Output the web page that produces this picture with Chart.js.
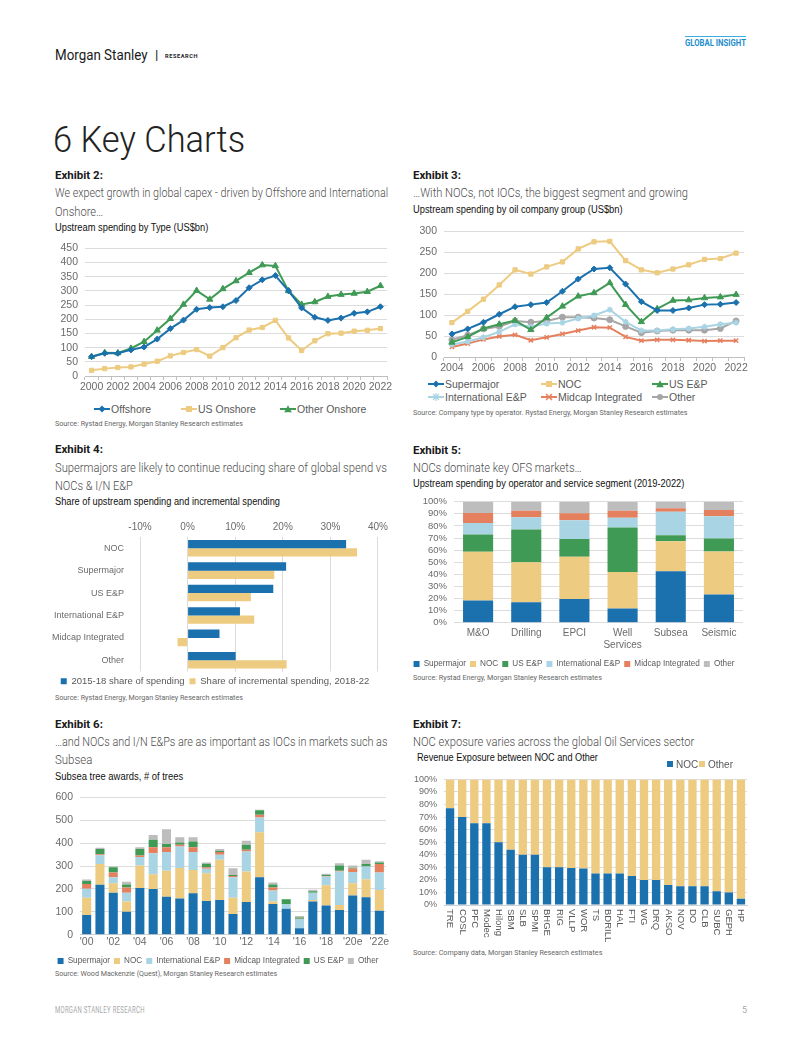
<!DOCTYPE html>
<html>
<head>
<meta charset="utf-8">
<script src="https://cdn.jsdelivr.net/npm/chart.js@4.4.1/dist/chart.umd.min.js"></script>
<style>
  body { margin: 0; background: #fff; font-family: Roboto, "Liberation Sans", Arial, sans-serif; }
  #page { position: relative; width: 802px; height: 1037px; overflow: hidden; background: #fff; }
  .lg { position: absolute; font-family: "Liberation Sans", Arial, sans-serif; font-size: 10.5px; color: #595959; white-space: nowrap; display: flex; align-items: center; }
  .lg svg { margin-right: 1px; }
  .sq { display: inline-block; width: 6px; height: 6px; margin-right: 3px; }
</style>
</head>
<body>
<div id="page"></div>
<script>
// ---- data ----
const years2 = ['2000','2001','2002','2003','2004','2005','2006','2007','2008','2009','2010','2011',
  '2012','2013','2014','2015','2016','2017','2018','2019','2020','2021','2022'];
const offshore     = [68, 80, 80, 92, 102, 130, 167, 197, 235, 241, 244, 266, 311, 339, 354, 300, 240, 207, 196, 204, 221, 226, 244];
const usOnshore    = [20, 26, 30, 32, 42, 52, 71, 83, 93, 70, 100, 135, 162, 171, 196, 134, 90, 124, 149, 151, 158, 161, 167];
const otherOnshore = [68, 82, 81, 97, 121, 161, 202, 252, 301, 270, 307, 335, 364, 391, 388, 300, 252, 261, 280, 287, 291, 297, 318];

const years3 = ['2004','2005','2006','2007','2008','2009','2010','2011','2012','2013','2014','2015',
  '2016','2017','2018','2019','2020','2021','2022'];
const supermajor3 = [55, 67, 83, 102, 120, 125, 130, 157, 186, 210, 213, 174, 132, 111, 111, 117, 125, 126, 130];
const noc3        = [82, 109, 138, 172, 208, 198, 215, 227, 258, 275, 276, 230, 208, 201, 210, 220, 233, 235, 248];
const usEP3       = [35, 48, 68, 78, 87, 65, 94, 121, 145, 153, 177, 125, 84, 115, 135, 136, 141, 143, 149];
const intlEP3     = [30, 37, 47, 60, 78, 72, 80, 82, 92, 99, 113, 84, 63, 63, 66, 68, 72, 78, 82];
const midcap3     = [24, 32, 42, 49, 53, 40, 47, 55, 63, 71, 70, 48, 39, 41, 41, 40, 38, 39, 39];
const other3      = [41, 52, 67, 73, 86, 83, 86, 95, 95, 93, 89, 73, 58, 62, 64, 64, 64, 68, 86];

const groups4 = ['NOC', 'Supermajor', 'US E&P', 'International E&P', 'Midcap Integrated', 'Other'];
const share1518 = [33.3, 20.7, 18.0, 11.0, 6.7, 10.1];
const shareIncr = [35.6, 18.2, 13.3, 14.0, -2.1, 20.8];

const segments5 = ['M&O', 'Drilling', 'EPCI', ['Well', 'Services'], 'Subsea', 'Seismic'];
const super5  = [18.4, 17.0, 19.7, 11.8, 42.5, 23.3];
const noc5    = [40.2, 32.9, 34.8, 30.1, 24.9, 35.6];
const usEP5   = [14.3, 27.1, 14.8, 36.7, 4.9, 10.7];
const intl5   = [9.6, 10.1, 15.4, 8.2, 19.5, 18.3];
const midcap5 = [8.2, 5.5, 5.7, 5.8, 2.7, 5.3];
const other5  = [9.3, 7.4, 9.6, 7.4, 5.5, 6.8];

const years6 = ["'00","'01","'02","'03","'04","'05","'06","'07","'08","'09","'10","'11",
  "'12","'13","'14","'15","'16","'17","'18","'19","'20e","'21e","'22e"];
const super6  = [86, 218, 184, 101, 204, 200, 166, 158, 181, 147, 152, 91, 143, 251, 134, 114, 29, 145, 128, 108, 172, 164, 105];
const noc6    = [76, 91, 41, 44, 98, 64, 113, 133, 102, 122, 175, 71, 133, 197, 11, 0, 0, 7, 88, 22, 53, 78, 91];
const intl6   = [39, 38, 26, 39, 37, 92, 82, 94, 78, 19, 22, 89, 88, 64, 48, 20, 40, 32, 38, 146, 49, 56, 76];
const midcap6 = [21, 5, 21, 22, 7, 26, 21, 8, 21, 7, 12, 6, 7, 12, 13, 0, 1, 0, 3, 3, 15, 0, 37];
const usEP6   = [13, 22, 23, 14, 28, 33, 14, 10, 25, 15, 5, 4, 22, 19, 14, 21, 6, 6, 4, 23, 4, 11, 6];
const other6  = [6, 6, 3, 12, 8, 21, 65, 23, 19, 5, 8, 29, 17, 3, 8, 0, 6, 7, 5, 10, 9, 18, 6];

const companies7 = ['TRE','COSL','PFC','Modec','Hilong','SBM','SLB','SPMI','BHGE','RIG','VLLP','WOR','TS',
  'BDRILL','HAL','FTI','WG','DRQ','AKSO','NOV','DO','CLB','SUBC','GEPH','HP'];
const nocShare7 = [77, 70, 65, 65, 50, 44, 40, 40, 30, 30, 29.5, 29, 25, 25, 25, 23, 20, 20, 16, 15, 15, 15, 11, 10, 5];
const otherShare7 = nocShare7.map(v => 100 - v);

// ---- colours ----
const BLUE = '#1b71ad', TAN = '#edcb80', GREEN = '#3f9a55', LBLUE = '#a9d4e4', ORANGE = '#e5805f', GREY = '#bdbdbd';
const GRID = '#dcdcdc', TICK = '#6b6b6b';
const FONT = '"Liberation Sans", Arial, sans-serif';

const page = document.getElementById('page');

// text helper: x, vertical centre, css, optional target width
function txt(s, x, cy, css, w) {
  const d = document.createElement('div');
  d.textContent = s;
  d.style.cssText = 'position:absolute;left:' + x + 'px;top:' + (cy - 12) + 'px;height:24px;line-height:24px;white-space:nowrap;transform-origin:0 50%;' + css;
  page.appendChild(d);
  if (w) d.style.transform = 'scaleX(' + (w / d.offsetWidth) + ')';
  return d;
}

// ---- header / footer ----
txt('Morgan Stanley', 55, 55, 'font-size:15.5px;color:#1a1a1a;', 93);
txt('|', 155, 55, 'font-size:13px;color:#333;font-weight:700;');
txt('RESEARCH', 165, 56, 'font-size:6px;color:#222;font-weight:700;letter-spacing:0.6px;', 33);
const rule = document.createElement('div');
rule.style.cssText = 'position:absolute;left:685px;top:36px;width:61px;height:1px;background:#3aaee0;';
page.appendChild(rule);
txt('GLOBAL INSIGHT', 685, 43, 'font-size:8.5px;color:#1c8ccc;font-weight:700;', 61);
txt('6 Key Charts', 53, 140, 'font-size:37px;font-weight:300;color:#222;', 192);
txt('MORGAN STANLEY RESEARCH', 55, 1010, 'font-size:9px;color:#a8a8a8;letter-spacing:0.4px;', 90);
txt('5', 742, 1010, 'font-size:9px;color:#a8a8a8;');

const EX = 'font-size:11.5px;font-weight:700;color:#1a1a1a;';
const SUB = 'font-size:13px;font-weight:300;color:#4d4d4d;';
const CT = 'font-size:10px;color:#111;font-family:"Liberation Sans",Arial,sans-serif;';
const SRC = 'font-size:7px;color:#666;';

// exhibit texts
txt('Exhibit 2:', 55, 175, EX, 48);
txt('We expect growth in global capex - driven by Offshore and International', 55, 193, SUB, 333);
txt('Onshore\u2026', 55, 212, SUB, 48);
txt('Upstream spending by Type (US$bn)', 55, 228, CT, 153);
txt('Source: Rystad Energy, Morgan Stanley Research estimates', 55, 424, SRC, 188);

txt('Exhibit 3:', 413, 175, EX, 48);
txt('\u2026With NOCs, not IOCs, the biggest segment and growing', 413, 193, SUB, 275);
txt('Upstream spending by oil company group (US$bn)', 413, 210, CT, 210);
txt('Source: Company type by operator. Rystad Energy, Morgan Stanley Research estimates', 413, 413, SRC, 275);

txt('Exhibit 4:', 55, 449, EX, 48);
txt('Supermajors are likely to continue reducing share of global spend vs', 55, 468, SUB, 332);
txt('NOCs & I/N E&P', 55, 486, SUB, 78);
txt('Share of upstream spending and incremental spending', 55, 502, CT, 225);
txt('Source: Rystad Energy, Morgan Stanley Research estimates', 55, 698, SRC, 188);

txt('Exhibit 5:', 413, 450, EX, 48);
txt('NOCs dominate key OFS markets\u2026', 413, 468, SUB, 169);
txt('Upstream spending by operator and service segment (2019-2022)', 413, 484, CT, 271);
txt('Source: Rystad Energy, Morgan Stanley Research estimates', 413, 678, SRC, 189);

txt('Exhibit 6:', 55, 724, EX, 48);
txt('\u2026and NOCs and I/N E&Ps are as important as IOCs in markets such as', 55, 742, SUB, 332);
txt('Subsea', 55, 760, SUB, 37);
txt('Subsea tree awards, # of trees', 55, 777, CT, 128);
txt('Source: Wood Mackenzie (Quest), Morgan Stanley Research estimates', 55, 974, SRC, 222);

txt('Exhibit 7:', 413, 724, EX, 48);
txt('NOC exposure varies across the global Oil Services sector', 413, 742, SUB, 281);
txt('Revenue Exposure between NOC and Other', 417, 758, CT, 181);
txt('Source: Company data, Morgan Stanley Research estimates', 413, 953, SRC, 189);

// ---- Chart.js setup ----
Chart.defaults.font.family = FONT;
Chart.defaults.color = TICK;
Chart.defaults.animation = false;
Chart.defaults.responsive = false;
Chart.defaults.devicePixelRatio = 1;
Chart.defaults.plugins.tooltip.enabled = false;

function cv(x, y, w, h) {
  const c = document.createElement('canvas');
  c.width = w; c.height = h;
  c.style.cssText = 'position:absolute;left:' + x + 'px;top:' + y + 'px;width:' + w + 'px;height:' + h + 'px;';
  page.appendChild(c);
  return c;
}

function everyOther(v, i) { return i % 2 ? '' : this.getLabelForValue(v); }

function xCat(h, size) {
  return {
    offset: true,
    grid: { display: true, drawOnChartArea: false, offset: true, tickLength: 4, color: '#bfbfbf' },
    border: { color: '#bfbfbf' },
    ticks: { autoSkip: false, maxRotation: 0, padding: 1, font: { size: size || 10.5 }, callback: everyOther },
    afterFit(s) { s.height = h; }
  };
}
function yLin(min, max, step, w, size, pct) {
  return {
    min: min, max: max,
    ticks: { stepSize: step, autoSkip: false, padding: 7, font: { size: size || 10.5 }, callback: pct ? v => v + '%' : v => v },
    grid: { color: GRID, drawTicks: false },
    border: { display: false },
    afterFit(s) { s.width = w; }
  };
}

function lineSet(label, data, color, style) {
  const stroke = style === 'crossRot' || style === 'star';
  return {
    label: label, data: data, borderColor: color, backgroundColor: color,
    borderWidth: 2, tension: 0, pointStyle: style,
    pointRadius: style === 'triangle' ? 3.6 : 3, pointBorderWidth: stroke ? 1.5 : 1,
    pointBorderColor: color, pointBackgroundColor: color
  };
}

function marker(style, c) {
  let m = '';
  if (style === 'rectRot') m = '<polygon points="8,1.5 11.5,5 8,8.5 4.5,5" fill="' + c + '"/>';
  if (style === 'rect') m = '<rect x="5" y="2" width="6" height="6" fill="' + c + '"/>';
  if (style === 'triangle') m = '<polygon points="8,1.2 11.8,8.2 4.2,8.2" fill="' + c + '"/>';
  if (style === 'crossRot') m = '<path d="M5,2 L11,8 M11,2 L5,8" stroke="' + c + '" stroke-width="1.5"/>';
  if (style === 'star') m = '<path d="M5,2 L11,8 M11,2 L5,8 M8,1 L8,9" stroke="' + c + '" stroke-width="1.2"/>';
  if (style === 'circle') m = '<circle cx="8" cy="5" r="3" fill="' + c + '"/>';
  return '<svg width="16" height="10"><line x1="0" y1="5" x2="16" y2="5" stroke="' + c + '" stroke-width="2"/>' + m + '</svg>';
}
function htmlLegend(sets, spots) {
  sets.forEach((s, i) => {
    const d = document.createElement('div');
    d.className = 'lg';
    d.style.left = spots[i][0] + 'px';
    d.style.top = (spots[i][1] - 7) + 'px';
    d.style.height = '14px';
    d.innerHTML = marker(s.pointStyle, s.borderColor) + '<span>' + s.label + '</span>';
    page.appendChild(d);
  });
}

// ---- Exhibit 2 ----
const sets2 = [
  lineSet('Offshore', offshore, BLUE, 'rectRot'),
  lineSet('US Onshore', usOnshore, TAN, 'rect'),
  lineSet('Other Onshore', otherOnshore, GREEN, 'triangle')
];
new Chart(cv(55, 235, 340, 157), {
  type: 'line',
  data: { labels: years2, datasets: sets2 },
  options: {
    layout: { padding: { top: 8, right: 8 } },
    plugins: { legend: { display: false } },
    scales: { x: xCat(16), y: yLin(0, 450, 50, 30) }
  }
});
htmlLegend(sets2, [[94, 409], [181, 409], [280, 409]]);

// ---- Exhibit 3 ----
const sets3 = [
  lineSet('Supermajor', supermajor3, BLUE, 'rectRot'),
  lineSet('NOC', noc3, TAN, 'rect'),
  lineSet('US E&P', usEP3, GREEN, 'triangle'),
  lineSet('International E&P', intlEP3, LBLUE, 'star'),
  lineSet('Midcap Integrated', midcap3, ORANGE, 'crossRot'),
  lineSet('Other', other3, '#a6a6a6', 'circle')
];
new Chart(cv(413, 218, 339, 155), {
  type: 'line',
  data: { labels: years3, datasets: sets3 },
  options: {
    layout: { padding: { top: 8, right: 8 } },
    plugins: { legend: { display: false } },
    scales: { x: xCat(16), y: yLin(0, 300, 50, 31) }
  }
});
htmlLegend(sets3, [[428, 384], [541, 384], [652, 384], [428, 397], [541, 397], [652, 397]]);

// ---- Exhibit 4 ----
new Chart(cv(50, 521, 342, 175), {
  type: 'bar',
  data: {
    labels: groups4,
    datasets: [
      { label: '2015-18 share of spending', data: share1518, backgroundColor: BLUE },
      { label: 'Share of incremental spending, 2018-22', data: shareIncr, backgroundColor: TAN }
    ]
  },
  options: {
    indexAxis: 'y',
    layout: { padding: { right: 12 } },
    datasets: { bar: { categoryPercentage: 0.74, barPercentage: 1 } },
    plugins: { legend: { position: 'bottom', labels: { boxWidth: 6, boxHeight: 6, padding: 5, font: { size: 9.5 }, color: '#595959' } } },
    scales: {
      x: {
        position: 'top', min: -10, max: 40,
        ticks: { stepSize: 10, callback: v => v + '%', padding: 4, font: { size: 10 } },
        grid: { color: GRID, drawTicks: false }, border: { display: false },
        afterFit(s) { s.height = 16; }
      },
      y: {
        grid: { display: false }, border: { display: false },
        ticks: { padding: 8, font: { size: 9 } },
        afterFit(s) { s.width = 90; }
      }
    }
  }
});

// ---- Exhibit 5 ----
function stackSet(label, data, color) { return { label: label, data: data, backgroundColor: color }; }
new Chart(cv(405, 489, 342, 189), {
  type: 'bar',
  data: {
    labels: segments5,
    datasets: [
      stackSet('Supermajor', super5, BLUE), stackSet('NOC', noc5, TAN), stackSet('US E&P', usEP5, GREEN),
      stackSet('International E&P', intl5, LBLUE), stackSet('Midcap Integrated', midcap5, ORANGE), stackSet('Other', other5, GREY)
    ]
  },
  options: {
    layout: { padding: { top: 8, right: 4 } },
    datasets: { bar: { categoryPercentage: 0.625, barPercentage: 1 } },
    plugins: { legend: { position: 'bottom', labels: { boxWidth: 6, boxHeight: 6, padding: 4, font: { size: 8.2 }, color: '#595959' } } },
    scales: {
      x: {
        stacked: true, grid: { display: false, drawTicks: false }, border: { display: false },
        ticks: { font: { size: 10 }, padding: 4 },
        afterFit(s) { s.height = 33; }
      },
      y: Object.assign(yLin(0, 100, 10, 49, 9.5, true), { stacked: true })
    }
  }
});

// ---- Exhibit 6 ----
new Chart(cv(50, 784, 342, 191), {
  type: 'bar',
  data: {
    labels: years6,
    datasets: [
      stackSet('Supermajor', super6, BLUE), stackSet('NOC', noc6, TAN), stackSet('International E&P', intl6, LBLUE),
      stackSet('Midcap Integrated', midcap6, ORANGE), stackSet('US E&P', usEP6, GREEN), stackSet('Other', other6, GREY)
    ]
  },
  options: {
    layout: { padding: { top: 8, right: 6 } },
    datasets: { bar: { categoryPercentage: 0.68, barPercentage: 1 } },
    plugins: { legend: { position: 'bottom', labels: { boxWidth: 6, boxHeight: 6, padding: 4, font: { size: 8.2 }, color: '#595959' } } },
    scales: {
      x: Object.assign(xCat(18), { stacked: true, grid: { display: false, drawTicks: false }, border: { color: '#d0d0d0' } }),
      y: Object.assign(yLin(0, 600, 100, 30), { stacked: true })
    }
  }
});

// ---- Exhibit 7 ----
const verticalLabels = {
  id: 'verticalLabels',
  afterDraw(chart) {
    const sx = chart.scales.x, ctx = chart.ctx;
    ctx.save();
    ctx.font = '9.5px ' + FONT;
    ctx.fillStyle = '#595959';
    ctx.textAlign = 'left';
    ctx.textBaseline = 'middle';
    chart.data.labels.forEach((l, i) => {
      ctx.save();
      ctx.translate(sx.getPixelForTick(i), sx.top + 4);
      ctx.rotate(Math.PI / 2);
      ctx.fillText(l, 0, 0);
      ctx.restore();
    });
    ctx.restore();
  }
};
const sets7 = [stackSet('NOC', nocShare7, BLUE), stackSet('Other', otherShare7, TAN)];
new Chart(cv(405, 767, 346, 188), {
  type: 'bar',
  data: { labels: companies7, datasets: sets7 },
  options: {
    layout: { padding: { top: 8, right: 4 } },
    datasets: { bar: { categoryPercentage: 0.69, barPercentage: 1 } },
    plugins: { legend: { display: false } },
    scales: {
      x: { stacked: true, grid: { display: false }, border: { color: '#d0d0d0' }, ticks: { display: false }, afterFit(s) { s.height = 50; } },
      y: Object.assign(yLin(0, 100, 10, 39, 9, true), { stacked: true })
    }
  },
  plugins: [verticalLabels]
});
// legend for exhibit 7 sits on the chart-title line, top right
[[667, 0], [699, 1]].forEach(([x, i]) => {
  const d = document.createElement('div');
  d.className = 'lg';
  d.style.cssText += 'left:' + x + 'px;top:757px;height:14px;font-size:10px;';
  d.innerHTML = '<span class="sq" style="background:' + sets7[i].backgroundColor + '"></span>' + sets7[i].label;
  page.appendChild(d);
});
</script>
</body>
</html>
